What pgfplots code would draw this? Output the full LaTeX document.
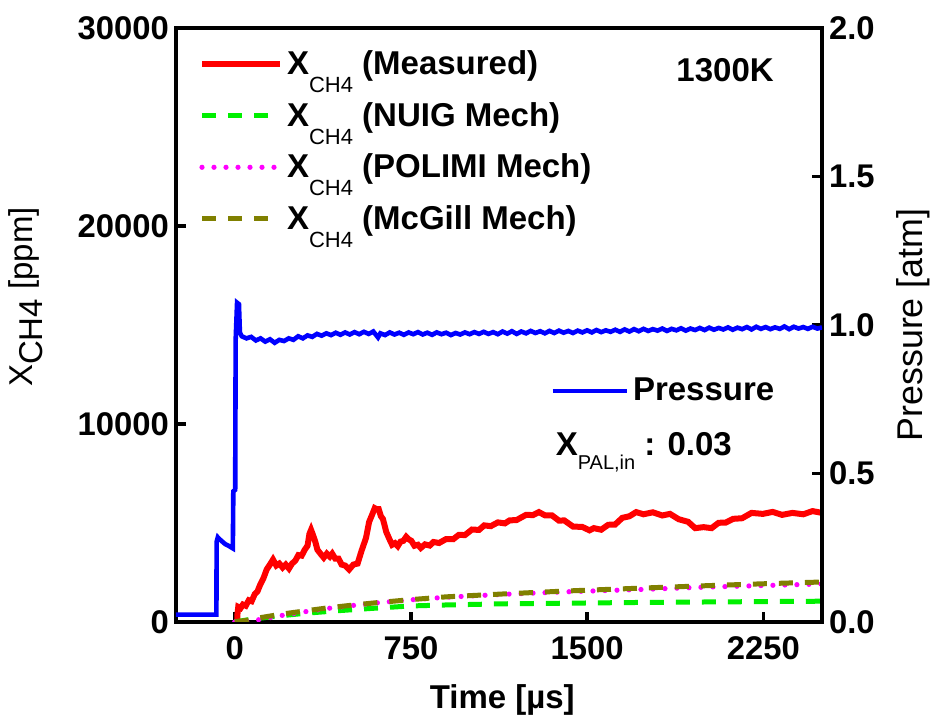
\documentclass[border=0pt]{standalone}
\usepackage{pgfplots}
\pgfplotsset{compat=1.18}
\usepackage{fontspec}
\setmainfont{Liberation Sans}
\definecolor{cgreen}{RGB}{0,240,0}
\definecolor{cmag}{RGB}{255,0,255}
\definecolor{colive}{RGB}{128,128,0}
\definecolor{cred}{RGB}{255,0,0}
\definecolor{cblue}{RGB}{0,0,255}
\newcommand{\sub}[1]{\raisebox{-9pt}{\fontsize{11}{11}\selectfont\mdseries #1}}
\newcommand{\subb}[1]{\raisebox{-7pt}{\fontsize{10}{10}\selectfont\mdseries #1}}

\pgfplotstableread{
t p
-250 0.025
-78 0.025
-77 0.27
-72 0.285
-66 0.28
-55 0.272
-40 0.262
-25 0.256
-8 0.248
-6 0.44
2 0.445
4 0.95
10 1.075
18 1.07
22 0.975
30 0.962
50 0.955
70 0.960
90 0.948
110 0.955
130 0.944
150 0.952
170 0.940
190 0.950
210 0.946
230 0.955
250 0.950
270 0.962
290 0.955
310 0.965
330 0.960
350 0.970
370 0.964
390 0.972
410 0.966
430 0.974
450 0.967
470 0.975
490 0.968
510 0.976
530 0.969
550 0.977
570 0.970
590 0.978
610 0.958
620 0.972
640 0.966
660 0.975
680 0.968
700 0.974
720 0.967
740 0.975
760 0.969
780 0.976
800 0.968
820 0.974
840 0.967
860 0.975
880 0.969
900 0.974
920 0.966
940 0.973
960 0.968
980 0.975
1000 0.969
1020 0.976
1040 0.970
1060 0.977
1080 0.970
1100 0.976
1120 0.969
1140 0.978
1160 0.971
1180 0.979
1200 0.970
1220 0.978
1240 0.972
1260 0.980
1280 0.973
1300 0.979
1320 0.972
1340 0.980
1360 0.973
1380 0.981
1400 0.974
1420 0.980
1440 0.973
1460 0.981
1480 0.975
1500 0.982
1520 0.975
1540 0.983
1560 0.976
1580 0.982
1600 0.977
1620 0.984
1640 0.977
1660 0.985
1680 0.978
1700 0.986
1720 0.979
1740 0.987
1760 0.980
1780 0.986
1800 0.981
1820 0.988
1840 0.980
1860 0.987
1880 0.982
1900 0.989
1920 0.981
1940 0.988
1960 0.983
1980 0.990
2000 0.983
2020 0.991
2040 0.984
2060 0.990
2080 0.985
2100 0.992
2120 0.984
2140 0.991
2160 0.986
2180 0.993
2200 0.985
2220 0.994
2240 0.987
2260 0.993
2280 0.986
2300 0.992
2320 0.987
2340 0.995
2360 0.986
2380 0.994
2400 0.988
2420 0.993
2440 0.987
2460 0.994
2480 0.988
2500 0.992
}\pressure

\pgfplotstableread{
t x
11 0
11.5 380
15 760
25 700
35 880
47 820
60 1100
72 1050
85 1400
97 1550
109 1900
122 2200
136 2650
150 2900
163 3150
177 2850
190 2950
204 2750
217 2900
231 2700
244 2950
258 3100
271 3380
285 3350
298 3650
310 3850
318 4450
325 4650
333 4400
343 4050
352 3650
365 3450
379 3250
392 3450
405 3300
415 3450
428 3200
442 3200
455 2900
470 2850
487 2650
505 2900
523 2950
540 3600
559 4250
572 5050
586 5450
596 5750
604 5700
613 5700
622 5350
631 5200
645 4550
658 4200
670 3900
682 3980
694 3830
706 4060
718 4100
730 4300
740 4180
752 4100
765 3850
780 3900
792 3740
810 3920
830 3860
846 4040
870 3990
900 4190
930 4180
954 4400
980 4390
1010 4670
1040 4650
1062 4880
1090 4840
1120 5030
1150 4980
1170 5130
1200 5150
1240 5410
1270 5400
1295 5550
1320 5390
1350 5390
1380 5120
1403 5130
1440 4820
1480 4800
1510 4630
1529 4740
1560 4660
1590 4910
1619 4920
1650 5260
1680 5340
1709 5550
1740 5440
1780 5540
1820 5380
1853 5460
1890 5190
1930 5060
1960 4740
1996 4790
2030 4740
2060 5010
2090 5020
2122 5210
2160 5240
2200 5510
2248 5460
2290 5560
2330 5410
2374 5510
2420 5440
2460 5600
2500 5510
}\measured

\pgfplotstableread{
t x
0 0
50 100
100 180
200 320
300 440
440 570
600 700
750 810
900 860
1150 920
1500 960
1750 990
2000 1010
2250 1030
2500 1050
}\nuig

\pgfplotstableread{
t x
0 0
50 40
100 110
200 330
300 520
400 690
500 830
600 960
750 1120
900 1250
1150 1400
1400 1520
1750 1650
2000 1760
2250 1840
2500 1920
}\polimi

\pgfplotstableread{
t x
0 0
50 80
100 200
200 400
300 560
400 720
500 850
600 970
750 1130
900 1270
1150 1420
1400 1560
1750 1720
2000 1830
2250 1930
2500 2020
}\mcgill

\begin{document}
\begin{tikzpicture}
\path[use as bounding box] (-88pt,-52pt) rectangle (378pt,311pt);
\pgfplotsset{
  common/.style={
    scale only axis, width=323pt, height=297pt,
    xmin=-250, xmax=2500,
    axis line style={line width=2pt},
    major tick style={line width=1.6pt, black},
    major tick length=5pt,
    tick align=inside,
    tick label style={font=\fontsize{16.4}{18}\selectfont\bfseries},
    /pgf/number format/assume math mode=true,
  },
  longleg/.style={legend image code/.code={\draw[##1] (0pt,0pt) -- (39pt,0pt);}},
  shortleg/.style={legend image code/.code={\draw[##1] (0pt,0pt) -- (37pt,0pt);}},
}
\begin{axis}[common, longleg,
  ymin=0, ymax=30000,
  xtick={0,750,1500,2250}, xtick pos=lower,
  ytick={0,10000,20000,30000}, ytick pos=left,
  scaled y ticks=false,
  yticklabel style={/pgf/number format/set thousands separator={}},
  xticklabel style={/pgf/number format/set thousands separator={}, yshift=-4pt},
  xlabel={\bfseries Time [µs]},
  xlabel style={font=\fontsize{16.5}{18}\selectfont, at={(axis description cs:0.505,-0.131)}, anchor=center},
  ylabel={X\raisebox{-5pt}{CH4} [ppm]},
  ylabel style={font=\fontsize{16.5}{18}\selectfont, at={(axis description cs:-0.232,0.547)}, anchor=center},
  legend style={at={(axis description cs:0.035,0.969)}, anchor=north west, draw=none, fill=none,
    font=\fontsize{16.5}{18}\selectfont\bfseries, row sep=8.3pt, inner sep=0pt},
  legend cell align=left,
]
\addplot[cred, line width=3pt] table[x=t,y=x] {\measured};
\addlegendentry{X\sub{CH4} (Measured)}
\addplot[cgreen, line width=2.5pt, dash pattern=on 7pt off 6pt] table[x=t,y=x] {\nuig};
\addlegendentry{X\sub{CH4} (NUIG Mech)}
\addplot[cmag, line width=2.6pt, line cap=round, dash pattern=on 0pt off 6pt] table[x=t,y=x] {\polimi};
\addlegendentry{X\sub{CH4} (POLIMI Mech)}
\addplot[colive, line width=2.5pt, dash pattern=on 7pt off 6pt] table[x=t,y=x] {\mcgill};
\addlegendentry{X\sub{CH4} (McGill Mech)}
\node[font=\fontsize{16.5}{18}\selectfont\bfseries] at (rel axis cs:0.85,0.929) {1300K};
\node[font=\fontsize{16.5}{18}\selectfont\bfseries, anchor=base west] at (rel axis cs:0.577,0.28) {X\subb{PAL,in} : 0.03};
\end{axis}
\begin{axis}[common, shortleg,
  ymin=0, ymax=2.0,
  axis x line=none, axis y line*=right,
  ytick={0,0.5,1.0,1.5,2.0},
  yticklabel style={/pgf/number format/fixed, /pgf/number format/fixed zerofill, /pgf/number format/precision=1},
  ylabel={Pressure [atm]},
  ylabel style={font=\fontsize{17.9}{20}\selectfont, at={(axis description cs:1.1416,0.5)}, anchor=center},
  legend style={at={(axis description cs:0.579,0.389)}, anchor=west, draw=none, fill=none,
    font=\fontsize{16.5}{18}\selectfont\bfseries, inner sep=0pt},
]
\addplot[cblue, line width=2.3pt] table[x=t,y=p] {\pressure};
\addlegendentry{Pressure}
\end{axis}
\end{tikzpicture}
\end{document}
